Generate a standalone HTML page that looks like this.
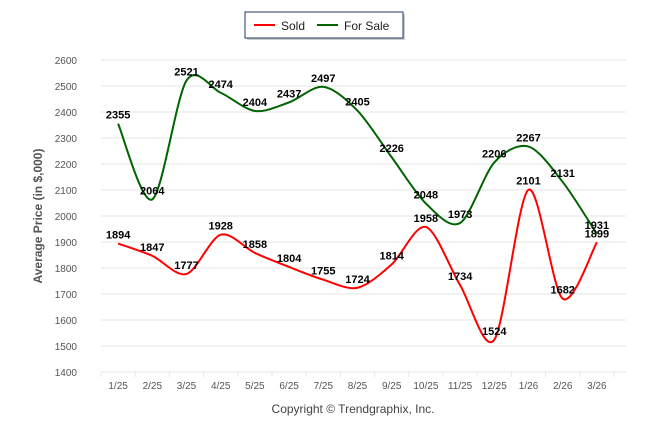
<!DOCTYPE html>
<html><head><meta charset="utf-8"><style>
body{margin:0;background:#fff;}
svg{font-family:"Liberation Sans",sans-serif;display:block}
</style></head><body>
<svg id="chart" width="646" height="434">
  <g>
    <rect x="247" y="14" width="158" height="26" fill="#999" opacity="0.5"/>
    <rect x="245" y="12" width="158" height="26" fill="#fff" stroke="#1f3864" stroke-width="1"/>
    <g>
      <line x1="254" y1="25" x2="275" y2="25" stroke="#ff0000" stroke-width="2"/>
      <text x="281" y="30" font-size="12" fill="#222">Sold</text>
    </g>
    <g>
      <line x1="317" y1="25" x2="338" y2="25" stroke="#006400" stroke-width="2"/>
      <text x="344" y="30" font-size="12" fill="#222">For Sale</text>
    </g>
  </g>
  <g id="grid"></g>
  <g id="series"></g>
  <g id="labels"></g>
  <text transform="translate(42,216) rotate(-90)" text-anchor="middle" font-size="12" font-weight="bold" fill="#555">Average Price (in $,000)</text>
  <text x="353" y="413" text-anchor="middle" font-size="12" fill="#444">Copyright © Trendgraphix, Inc.</text>
</svg>
<script>
const categories=["1/25","2/25","3/25","4/25","5/25","6/25","7/25","8/25","9/25","10/25","11/25","12/25","1/26","2/26","3/26"];
const soldValues=[1894,1847,1777,1928,1858,1804,1755,1724,1814,1958,1734,1524,2101,1682,1899];
const forSaleValues=[2355,2064,2521,2474,2404,2437,2497,2405,2226,2048,1973,2206,2267,2131,1931];
const yTicks=[1400,1500,1600,1700,1800,1900,2000,2100,2200,2300,2400,2500,2600];
const NS="http://www.w3.org/2000/svg";
const x0=101,x1=614,gridEnd=626,yTop=60,yBot=372,yMin=1400,yMax=2600;
const step=(x1-x0)/categories.length;
function xs(i){return x0+step*(i+0.5);}
function ys(v){return yBot-(v-yMin)/(yMax-yMin)*(yBot-yTop);}
function mk(tag,attrs,parent){const e=document.createElementNS(NS,tag);for(const k in attrs)e.setAttribute(k,attrs[k]);parent.appendChild(e);return e;}
const grid=document.getElementById('grid');
yTicks.forEach(t=>{
  const l=mk('line',{x1:x0,x2:gridEnd,y1:ys(t),y2:ys(t),stroke:'#e6e6e6','stroke-width':1},grid);
  
  
  const tx=mk('text',{x:77,y:ys(t)+4,'text-anchor':'end','font-size':10,fill:'#555'},grid);
  tx.textContent=t;
  
  
});
for(let i=0;i<=categories.length;i++){
  const tk=mk('line',{x1:x0+step*i,x2:x0+step*i,y1:yBot,y2:yBot+5,stroke:'#e6e6e6'},grid);
  
  
}
categories.forEach((c,i)=>{
  const tx=mk('text',{x:xs(i),y:389,'text-anchor':'middle','font-size':10,fill:'#555'},grid);
  tx.textContent=c;
  
  
});
function path(vals){
  const p=vals.map((v,i)=>[xs(i),ys(v)]);
  let d='M'+p[0][0]+','+p[0][1];
  const k=0.15;
  for(let i=0;i<p.length-1;i++){
    const a=p[i-1]||p[i],b=p[i],c=p[i+1],e=p[i+2]||c;
    const c1=[b[0]+(c[0]-a[0])*k,b[1]+(c[1]-a[1])*k];
    const c2=[c[0]-(e[0]-b[0])*k,c[1]-(e[1]-b[1])*k];
    d+=' C'+c1[0]+','+c1[1]+' '+c2[0]+','+c2[1]+' '+c[0]+','+c[1];
  }
  return d;
}
const ser=document.getElementById('series');
const lab=document.getElementById('labels');
[[forSaleValues,'#006400','for-sale'],[soldValues,'#ff0000','sold']].forEach(([vals,col,name])=>{
  const p=mk('path',{d:path(vals),fill:'none',stroke:col,'stroke-width':2},ser);
  
  
  vals.forEach((v,i)=>{
    const t=mk('text',{x:xs(i),y:ys(v)-5,'text-anchor':'middle','font-size':11,'font-weight':'bold',fill:'#000'},lab);
    t.textContent=v;
    
    
  });
});
</script>
</body></html>
